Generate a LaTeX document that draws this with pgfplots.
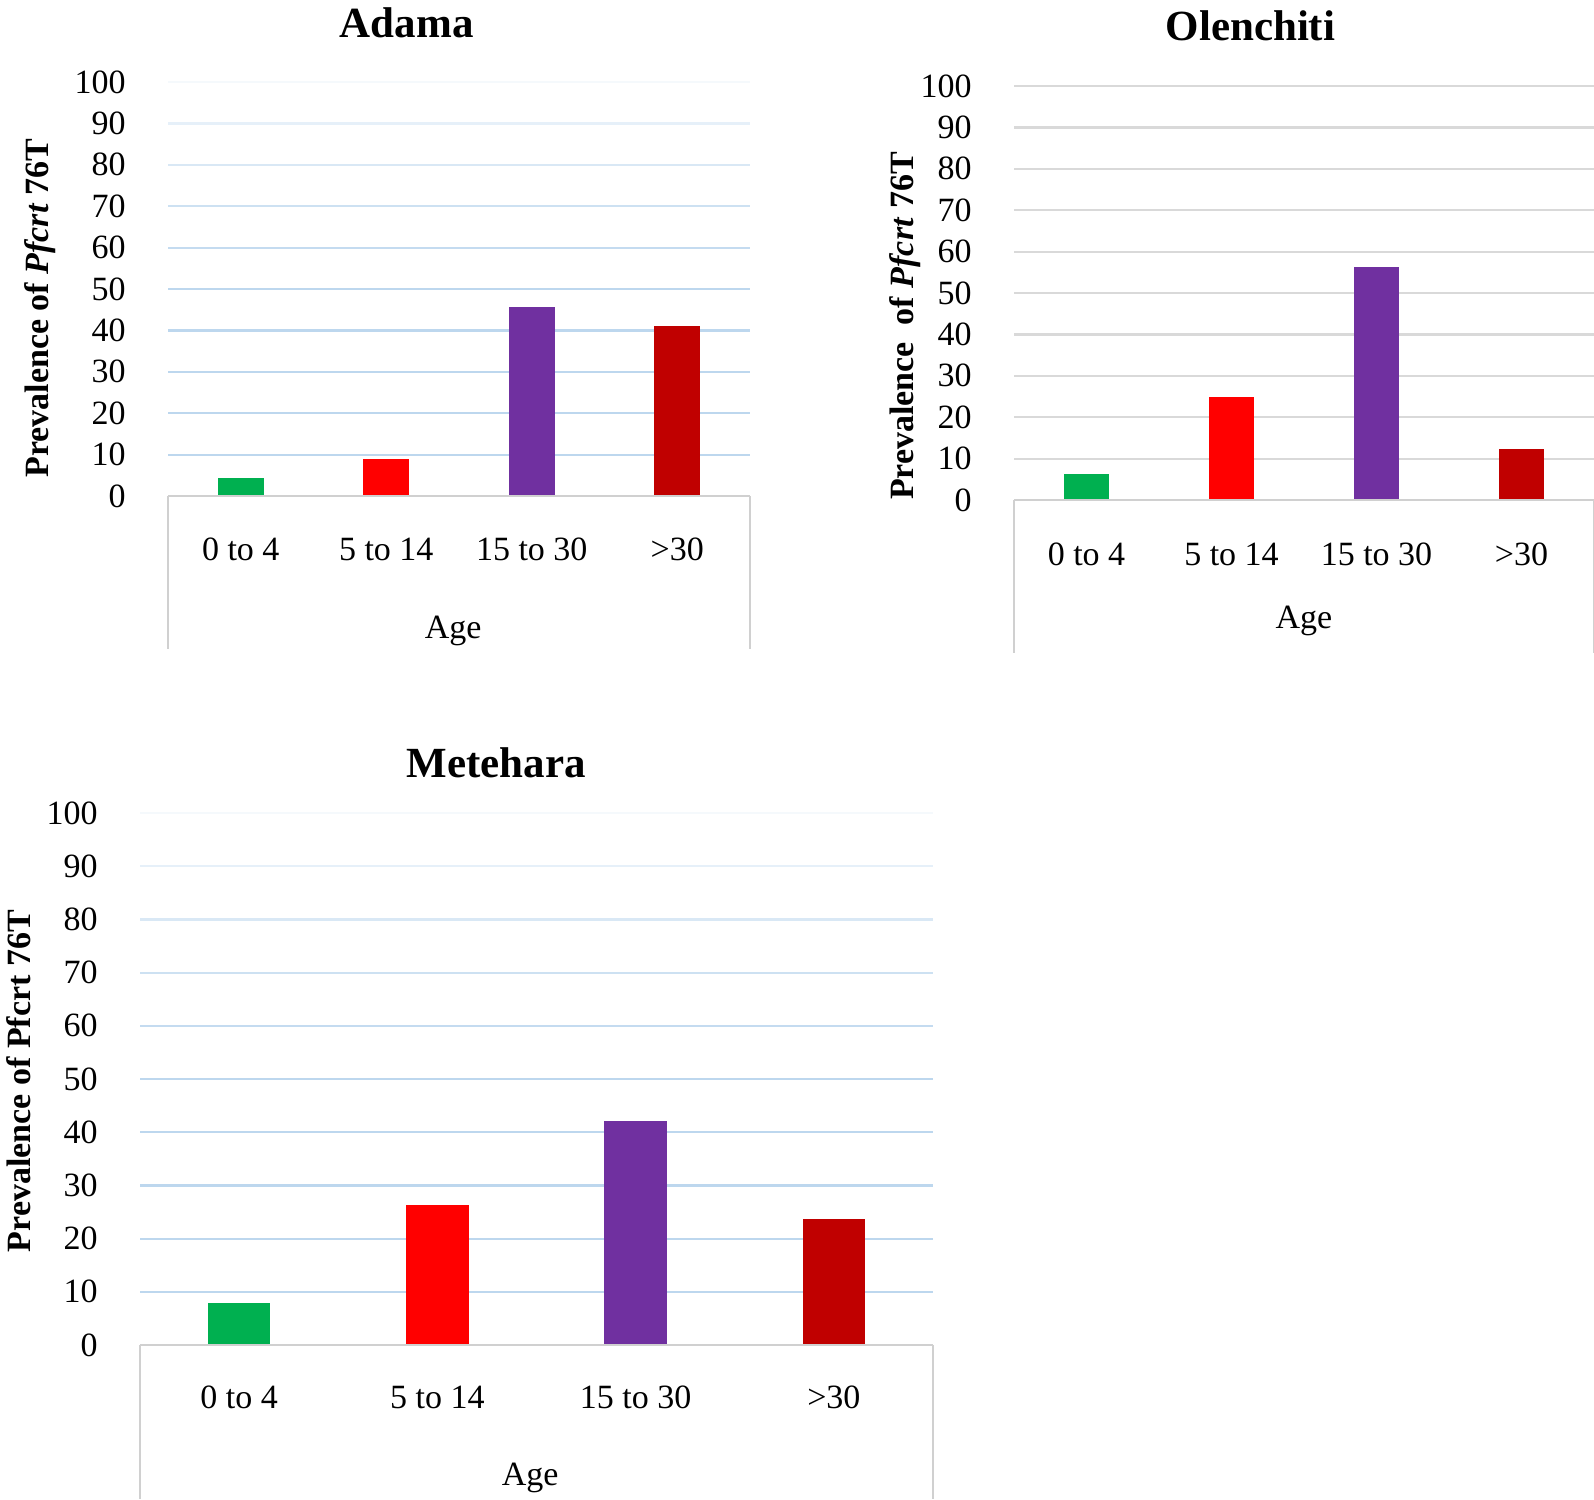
\documentclass[border=0pt]{standalone}
\usepackage{pgfplots}
\pgfplotsset{compat=1.18}
\usepackage{fontspec}
\setmainfont{Liberation Serif}
\definecolor{gridblue}{HTML}{BDD7EE}
\definecolor{gridgray}{HTML}{D9D9D9}
\definecolor{boxgray}{HTML}{D0D0D0}
\definecolor{cgreen}{HTML}{00B050}
\definecolor{cred}{HTML}{FF0000}
\definecolor{cpurple}{HTML}{7030A0}
\definecolor{cdred}{HTML}{C00000}
\newcommand\gl[2]{\draw[line width=1.1pt, color=#2] (axis cs:-0.5,#1) -- (axis cs:3.5,#1);}
\newcommand\bluegrids{%
  \gl{10}{gridblue}\gl{20}{gridblue}\gl{30}{gridblue}\gl{40}{gridblue}\gl{50}{gridblue}%
  \gl{60}{gridblue!90}\gl{70}{gridblue!75}\gl{80}{gridblue!58}\gl{90}{gridblue!38}\gl{100}{gridblue!15}}
\newcommand\graygrids{%
  \gl{10}{gridgray}\gl{20}{gridgray}\gl{30}{gridgray}\gl{40}{gridgray}\gl{50}{gridgray}%
  \gl{60}{gridgray}\gl{70}{gridgray}\gl{80}{gridgray}\gl{90}{gridgray}\gl{100}{gridgray}}
\newcommand\boxlines[1]{%
  \draw[line width=1.1pt, color=boxgray] (rel axis cs:0,0) -- ++(0pt,-#1);
  \draw[line width=1.1pt, color=boxgray] (rel axis cs:1,0) -- ++(0pt,-#1);
  \draw[line width=1.1pt, color=boxgray] (rel axis cs:0,0) -- (rel axis cs:1,0);}
\newcommand\bars[4]{%
  \addplot[ybar, bar shift=0pt, fill=cgreen, draw=none] coordinates {(0,#1)};
  \addplot[ybar, bar shift=0pt, fill=cred, draw=none] coordinates {(1,#2)};
  \addplot[ybar, bar shift=0pt, fill=cpurple, draw=none] coordinates {(2,#3)};
  \addplot[ybar, bar shift=0pt, fill=cdred, draw=none] coordinates {(3,#4)};}
\pgfplotsset{
  every axis title shift=0pt,
  myaxis/.style={
    scale only axis,
    anchor=south west,
    xmin=-0.5, xmax=3.5, ymin=0, ymax=100,
    enlargelimits=false,
    clip=false,
    axis line style={draw=none},
    major tick length=0pt,
    tick style={draw=none},
    xtick={0,1,2,3},
    xticklabels={0 to 4, 5 to 14, 15 to 30, >30},
    ytick={0,10,...,100},
    /pgf/number format/assume math mode=true,
    ticklabel style={font=\fontsize{17}{20}\selectfont},
    yticklabel style={inner sep=0pt, anchor=east, xshift=-21pt},
    xticklabel style={anchor=center},
    bar width=0.315,
    xlabel={Age},
    label style={font=\fontsize{17}{20}\selectfont},
    title style={font=\bfseries\fontsize{21.5}{24}\selectfont, anchor=center, yshift=0pt},
  }
}
\begin{document}
\begin{tikzpicture}
\useasboundingbox (0,0) rectangle (797pt,-749.5pt);
% Adama
\begin{axis}[myaxis,
  at={(84pt,-248pt)}, width=291pt, height=207pt,
  xticklabel style={yshift=-26.5pt},
  xlabel style={at={(axis description cs:0.49,0)}, anchor=center, yshift=-67.5pt},
  ylabel={\bfseries Prevalence of \textit{Pfcrt} 76T},
  ylabel style={at={(axis description cs:-0.22,0.454)}, anchor=center},
  title={Adama},
  title style={at={(axis description cs:0.41,1.144)}},
]
\bluegrids
\bars{4.4}{9.0}{45.6}{41.0}
\boxlines{76.5pt}
\end{axis}
% Olenchiti
\begin{axis}[myaxis,
  at={(507pt,-250pt)}, width=290pt, height=207pt,
  xticklabel style={yshift=-27pt},
  xlabel style={at={(axis description cs:0.5,0)}, anchor=center, yshift=-60.5pt},
  ylabel={\bfseries Prevalence\ \ of \textit{Pfcrt} 76T},
  ylabel style={at={(axis description cs:-0.188,0.42)}, anchor=center},
  title={Olenchiti},
  title style={at={(axis description cs:0.4076,1.146)}},
]
\graygrids
\bars{6.3}{25.0}{56.2}{12.4}
\boxlines{76.5pt}
\end{axis}
% Metehara
\begin{axis}[myaxis,
  at={(70pt,-672.5pt)}, width=396.5pt, height=266pt,
  xticklabel style={yshift=-26pt},
  xlabel style={at={(axis description cs:0.492,0)}, anchor=center, yshift=-66.5pt},
  ylabel={\bfseries Prevalence of Pfcrt 76T},
  ylabel style={at={(axis description cs:-0.1535,0.496)}, anchor=center},
  title={Metehara},
  title style={at={(axis description cs:0.449,1.095)}},
]
\bluegrids
\bars{7.9}{26.3}{42.1}{23.6}
\boxlines{77pt}
\end{axis}
\end{tikzpicture}
\end{document}
